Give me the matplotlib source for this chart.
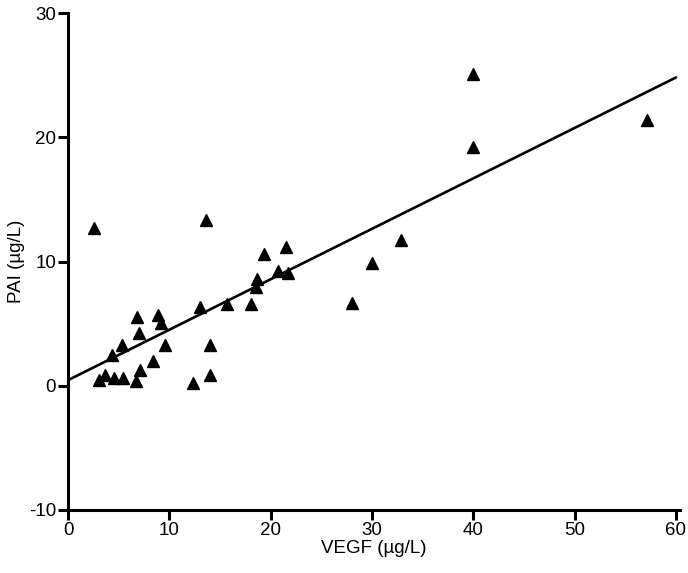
import numpy as np
import matplotlib
matplotlib.use("Agg")
import matplotlib.pyplot as plt

plt.rcParams['font.family'] = ['Liberation Sans', 'DejaVu Sans']
plt.rcParams['axes.unicode_minus'] = False

# === Données ===
vegf = [2.6, 13.6, 40.0, 40.0, 57.1, 32.9, 30.0, 28.0,
        21.5, 19.35, 20.7, 21.75, 18.7, 18.6, 18.1, 15.7, 13.0,
        14.0, 14.0, 12.3,
        8.9, 9.15, 9.6, 8.4, 6.85, 7.0, 5.3, 4.3, 7.1, 6.7,
        5.45, 4.5, 3.65, 3.1]
pai = [12.7, 13.3, 25.1, 19.25, 21.4, 11.7, 9.9, 6.7,
       11.2, 10.6, 9.26, 9.08, 8.6, 7.95, 6.55, 6.55, 6.35,
       3.24, 0.83, 0.24,
       5.7, 5.06, 3.24, 1.98, 5.55, 4.25, 3.3, 2.45, 1.3, 0.4,
       0.65, 0.6, 0.85, 0.45]

# droite de régression (extrémités)
ligne_x = [0, 60.1]
ligne_y = [0.45, 24.85]

x_ticks = [0, 10, 20, 30, 40, 50, 60]
y_ticks = [-10, 0, 10, 20, 30]

fig = plt.figure(figsize=(6.88, 5.73), dpi=100)
ax = fig.add_axes([68 / 688, 63 / 573, 612 / 688, 497 / 573])

ax.plot(ligne_x, ligne_y, color='black', lw=1.9, solid_capstyle='butt')
ax.plot(vegf, pai, '^', color='black', markersize=9, clip_on=False)

ax.set_xlim(0, 60.4)
ax.set_ylim(-10, 30)
ax.set_xticks(x_ticks)
ax.set_yticks(y_ticks)

for s in ['top', 'right']:
    ax.spines[s].set_visible(False)
for s in ['left', 'bottom']:
    ax.spines[s].set_linewidth(2.2)
ax.tick_params(direction='out', length=7, width=2.2, labelsize=13.5, pad=1.5)

ax.set_xlabel("VEGF (µg/L)", fontsize=13.5, labelpad=1)
ax.set_ylabel("PAI (µg/L)", fontsize=13.5, labelpad=3)

fig.savefig("out.png", dpi=100)
